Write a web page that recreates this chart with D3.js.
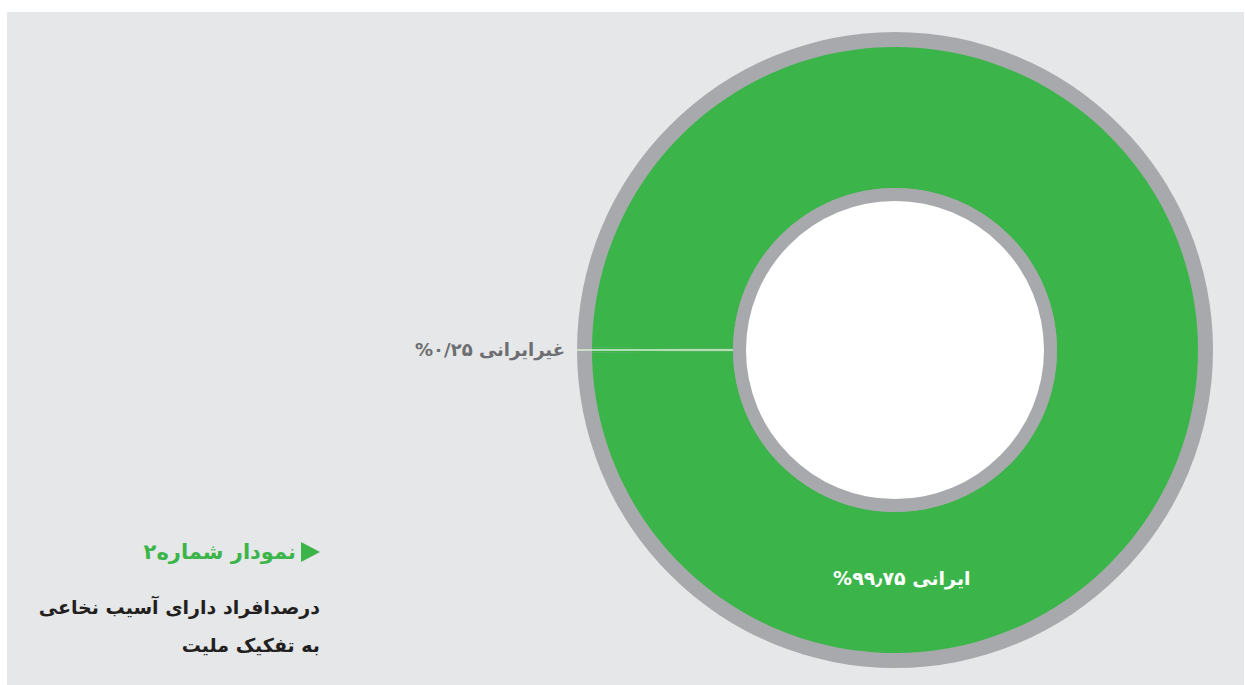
<!DOCTYPE html>
<html lang="fa">
<head>
<meta charset="utf-8">
<script src="https://cdn.jsdelivr.net/npm/d3@7"></script>
<style>
  html, body { margin: 0; padding: 0; background: #ffffff; }
  svg { display: block; }
  text { font-family: "DejaVu Sans", "Noto Sans", sans-serif; }
</style>
</head>
<body>
<svg id="chart" width="1245" height="685"></svg>
<script>
// data
const categories = ["ایرانی", "غیرایرانی"];
const values = [99.75, 0.25];
const valueLabels = ["۹۹٫۷۵%", "۰/۲۵%"];
const title = "نمودار شماره۲";
const subtitle = ["درصدافراد دارای آسیب نخاعی", "به تفکیک ملیت"];

const width = 1245;
const height = 685;
const cx = 895;
const cy = 350;

const svg = d3.select("#chart");

// panel background
svg
  .append("rect")
  .attr("x", 7)
  .attr("y", 12)
  .attr("width", width - 8)
  .attr("height", height - 12)
  .attr("fill", "#e6e7e8");

const g = svg.append("g").attr("transform", `translate(${cx}, ${cy})`);

// outer grey ring
g.append("circle").attr("r", 318).attr("fill", "#a7a9ac");

const colors = d3.scaleOrdinal().domain(categories).range(["#3bb54a", "#3bb54a"]);

// put the small slice centred at 9 o'clock
const smallHalf = (values[1] / d3.sum(values)) * Math.PI;
const pie = d3
  .pie()
  .sort(null)
  .startAngle(-Math.PI / 2 + smallHalf)
  .endAngle((3 * Math.PI) / 2 + smallHalf);
const arcs = pie(values);

const arc = d3.arc().innerRadius(162).outerRadius(303);

g.append("g")
  .selectAll("path")
  .data(arcs)
  .enter()
  .append("path")
  .attr("d", arc)
  .attr("fill", (d, i) => colors(categories[i]));

// inner grey ring + hole
g.append("circle").attr("r", 162).attr("fill", "#a7a9ac");
g.append("circle").attr("r", 149).attr("fill", "#ffffff");

// leader line for the small slice
const small = arcs[1];
const midAngle = (small.startAngle + small.endAngle) / 2;
const px = (r) => r * Math.sin(midAngle);
const py = (r) => -r * Math.cos(midAngle);
g.append("line")
  .attr("x1", px(318) - 0.5)
  .attr("y1", py(318))
  .attr("x2", px(162))
  .attr("y2", py(162))
  .attr("stroke", "#d9efd6")
  .attr("stroke-width", 1.5);

// labels
g.append("text")
  .attr("x", px(318) - 12)
  .attr("y", py(318))
  .attr("dy", "0.35em")
  .attr("direction", "rtl")
  .attr("text-anchor", "start")
  .attr("font-size", 18)
  .attr("font-weight", "bold")
  .attr("fill", "#6d6e71")
  .text(`${categories[1]} ${valueLabels[1]}`);

const labelArc = d3.arc().innerRadius(228).outerRadius(228);
const [lx, ly] = labelArc.centroid({ startAngle: Math.PI - 0.03, endAngle: Math.PI - 0.03 });
g.append("text")
  .attr("x", lx)
  .attr("y", ly)
  .attr("dy", "0.35em")
  .attr("direction", "rtl")
  .attr("text-anchor", "middle")
  .attr("font-size", 19)
  .attr("font-weight", "bold")
  .attr("fill", "#ffffff")
  .text(`${categories[0]} ${valueLabels[0]}`);

// title block
svg
  .append("path")
  .attr("d", "M301,542 L320,552 L301,562 Z")
  .attr("fill", "#3bb54a");

svg
  .append("text")
  .attr("x", 296)
  .attr("y", 552)
  .attr("dy", "0.35em")
  .attr("direction", "rtl")
  .attr("text-anchor", "start")
  .attr("font-size", 21)
  .attr("font-weight", "bold")
  .attr("fill", "#3bb54a")
  .text(title);

svg
  .append("g")
  .selectAll("text")
  .data(subtitle)
  .enter()
  .append("text")
  .attr("x", 320)
  .attr("y", (d, i) => 607 + i * 38)
  .attr("dy", "0.35em")
  .attr("direction", "rtl")
  .attr("text-anchor", "start")
  .attr("font-size", 19)
  .attr("font-weight", "bold")
  .attr("fill", "#231f20")
  .text((d) => d);
</script>
</body>
</html>
